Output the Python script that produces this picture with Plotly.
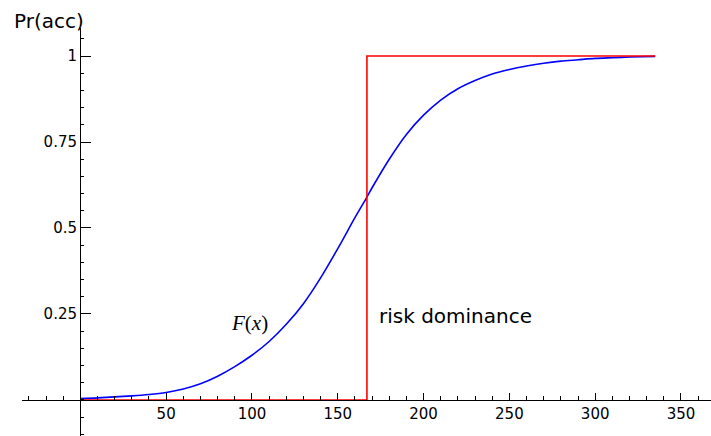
import plotly.graph_objects as go

# Blue CDF curve F(x)
curve_x = [0, 10, 20, 30, 40, 50, 60, 70, 80, 90, 100, 110, 120, 130, 140, 150, 160,
           167, 170, 180, 190, 200, 210, 220, 230, 240, 250, 260, 270, 280, 290, 300,
           310, 320, 335]
curve_y = [0.004, 0.006, 0.009, 0.012, 0.016, 0.022, 0.032, 0.047, 0.069, 0.097, 0.130,
           0.170, 0.220, 0.280, 0.355, 0.440, 0.530, 0.590, 0.617, 0.700, 0.772, 0.828,
           0.872, 0.905, 0.929, 0.948, 0.961, 0.971, 0.979, 0.985, 0.989, 0.993, 0.995,
           0.997, 0.999]

# Red step (risk dominance threshold)
step_x = [0, 167, 167, 335]
step_y = [0, 0, 1, 1]

x_ticks = [50, 100, 150, 200, 250, 300, 350]
y_ticks = [0.25, 0.5, 0.75, 1]
y_tick_text = ["0.25", "0.5", "0.75", "1"]

W, H = 711, 436
x_range = [-34.0, 367.5]
y_range = [-0.1047, 1.0814]

fig = go.Figure()
fig.add_trace(go.Scatter(x=curve_x, y=curve_y, mode="lines",
                         line=dict(color="#0000ff", width=1.6, shape="spline",
                                   smoothing=0.8),
                         showlegend=False))
fig.add_trace(go.Scatter(x=step_x, y=step_y, mode="lines",
                         line=dict(color="#ff0000", width=1.6, shape="linear"),
                         showlegend=False))

font_tick = dict(family="DejaVu Sans", size=15, color="black")

fig.update_layout(
    width=W, height=H,
    margin=dict(l=0, r=0, t=0, b=0),
    paper_bgcolor="white", plot_bgcolor="white",
    xaxis=dict(
        domain=[22 / W, 1], range=x_range, anchor="free", position=36 / H,
        showgrid=False, zeroline=False, showline=True, linecolor="black", linewidth=1,
        tickmode="array", tickvals=x_ticks, ticks="inside", ticklen=7, tickwidth=1,
        tickcolor="black", tickfont=font_tick,
        minor=dict(tickmode="linear", tick0=0, dtick=10, ticks="inside", ticklen=4,
                   tickcolor="black", tickwidth=1),
    ),
    yaxis=dict(
        domain=[0, 1 - 28 / H], range=y_range, anchor="free", position=80 / W,
        showgrid=False, zeroline=False, showline=True, linecolor="black", linewidth=1,
        tickmode="array", tickvals=y_ticks, ticktext=y_tick_text, ticks="inside",
        ticklen=10, tickwidth=1, tickcolor="black", tickfont=font_tick,
        ticklabelstandoff=0,
        minor=dict(tickmode="linear", tick0=0, dtick=0.05, ticks="inside", ticklen=3,
                   tickcolor="black", tickwidth=1),
    ),
    annotations=[
        dict(text="Pr(acc)", xref="paper", yref="paper", x=12 / W, y=1 - 21 / H,
             xanchor="left", yanchor="middle", showarrow=False,
             font=dict(family="DejaVu Sans", size=20, color="black")),
        dict(text="risk dominance", xref="x", yref="y", x=173, y=0.244,
             xanchor="left", yanchor="middle", showarrow=False,
             font=dict(family="DejaVu Sans", size=20, color="black")),
        dict(text="<i>F</i>(<i>x</i>)", xref="x", yref="y", x=98.5, y=0.224,
             xanchor="center", yanchor="middle", showarrow=False,
             font=dict(family="Liberation Serif", size=21, color="black")),
        dict(text="<i>x</i>", xref="paper", yref="paper", x=679 / W, y=1 - 426 / H,
             xanchor="center", yanchor="top", showarrow=False,
             font=dict(family="Liberation Serif", size=20, color="black")),
    ],
)

fig.write_html("out.html")
